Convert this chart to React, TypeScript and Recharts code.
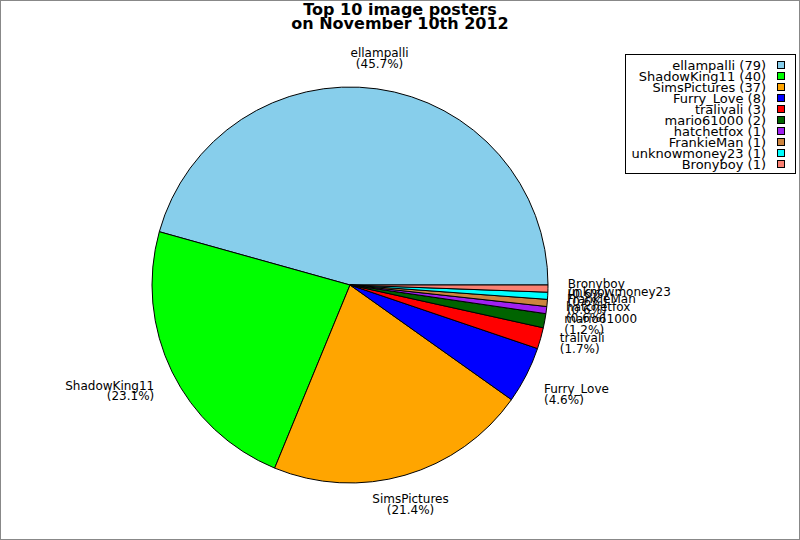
import React from 'react';
import { PieChart, Pie, Cell, Legend } from 'recharts';

const names = ['ellampalli', 'ShadowKing11', 'SimsPictures', 'Furry_Love', 'tralivali', 'mario61000', 'hatchetfox', 'FrankieMan', 'unknowmoney23', 'Bronyboy'];
const counts = [79, 40, 37, 8, 3, 2, 1, 1, 1, 1];
const colors = ['#87CEEB', '#00FF00', '#FFA500', '#0000FF', '#FF0000', '#006400', '#A020F0', '#CD853F', '#00FFFF', '#FA8072'];
const titleLines = ['Top 10 image posters', 'on November 10th 2012'];

const data = names.map((n, i) => ({ name: n, value: counts[i] }));

const FONT = '"DejaVu Sans", sans-serif';

const renderLabel = (props: any) => {
  const { cx, cy, midAngle, outerRadius, percent, name } = props;
  const RAD = Math.PI / 180;
  const r = outerRadius * 1.1;
  const c = Math.cos(midAngle * RAD);
  const s = Math.sin(midAngle * RAD);
  const x = cx + r * c;
  const y = cy - r * s;
  const anchor = c > 0.5 ? 'start' : c < -0.5 ? 'end' : 'middle';
  const lh = 10.5;
  let centerY = y;
  if (s > 0.35) centerY = y - lh;
  else if (s < -0.35) centerY = y + lh;
  return (
    <g>
      <text x={x} y={centerY - lh / 2} textAnchor={anchor} dominantBaseline="central" fontSize={12} fontFamily={FONT} fill="#000">{name}</text>
      <text x={x} y={centerY + lh / 2} textAnchor={anchor} dominantBaseline="central" fontSize={12} fontFamily={FONT} fill="#000">({(percent * 100).toFixed(1)}%)</text>
    </g>
  );
};

const LegendBox = () => (
  <div style={{ border: '1px solid #000', boxSizing: 'border-box', width: 171, height: 120, background: '#fff', paddingTop: 4.5, fontFamily: FONT, fontSize: 13 }}>
    {names.map((n, i) => (
      <div key={n} style={{ height: 11, display: 'flex', justifyContent: 'flex-end', alignItems: 'center', paddingRight: 10, whiteSpace: 'nowrap', color: '#000' }}>
        <span style={{ lineHeight: '11px' }}>{n} ({counts[i]})</span>
        <span style={{ display: 'inline-block', width: 8, height: 8, border: '1px solid #000', boxSizing: 'border-box', background: colors[i], marginLeft: 11 }} />
      </div>
    ))}
  </div>
);

export default function App() {
  return (
    <div style={{ position: 'absolute', left: 0, top: 0, width: 800, height: 540, background: '#fff', border: '1px solid #888', boxSizing: 'border-box', overflow: 'hidden' }}>
      <div style={{ position: 'absolute', left: 0, top: -1, width: 798, textAlign: 'center', fontFamily: FONT, fontWeight: 'bold', fontSize: 16, lineHeight: '14px', paddingTop: 3, color: '#000' }}>
        {titleLines.map((t) => (<div key={t}>{t}</div>))}
      </div>
      <div style={{ position: 'absolute', left: -1, top: -1 }}>
        <PieChart width={800} height={540} margin={{ top: 0, right: 0, bottom: 0, left: 0 }}>
          <Pie
            data={data}
            dataKey="value"
            nameKey="name"
            cx={350}
            cy={285}
            outerRadius={198}
            startAngle={0}
            endAngle={360}
            stroke="#000"
            strokeWidth={1}
            label={renderLabel}
            labelLine={false}
            isAnimationActive={false}
          >
            {data.map((d, i) => (<Cell key={d.name} fill={colors[i]} />))}
          </Pie>
          <Legend layout="vertical" align="right" verticalAlign="top" content={() => <LegendBox />} wrapperStyle={{ left: 625, top: 54, width: 171, height: 120 }} />
        </PieChart>
      </div>
    </div>
  );
}
